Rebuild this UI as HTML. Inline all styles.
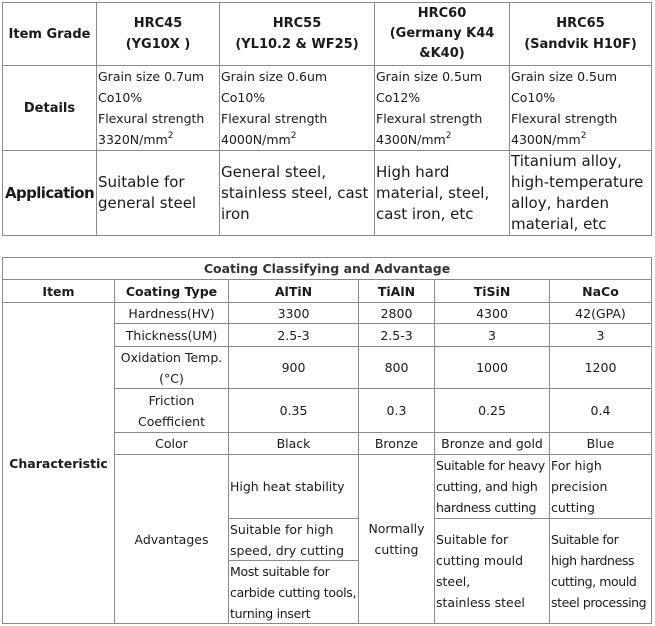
<!DOCTYPE html>
<html><head><meta charset="utf-8"><style>
body{margin:0;width:655px;height:626px;background:#fff;position:relative;overflow:hidden;font-family:"DejaVu Sans","Liberation Sans",sans-serif;color:#1a1a1a}
.c{position:absolute;box-sizing:border-box;border:1px solid #8a8a8a;display:flex;align-items:center;justify-content:center;text-align:center;font-size:12.5px;line-height:21px;white-space:nowrap}
.c>div{width:100%}
.l{text-align:left}
.l>div{padding-left:1px}
.b{font-weight:bold}
.big{font-size:15px;line-height:21px}
sup{font-size:9px;line-height:0;vertical-align:6px}
</style></head><body>
<!-- table 1 -->
<div class="c b" style="left:2px;top:2px;width:95px;height:64px;font-size:13px"><div>Item Grade</div></div>
<div class="c b" style="left:96px;top:2px;width:124px;height:64px;font-size:13px"><div>HRC45<br>(YG10X )</div></div>
<div class="c b" style="left:219px;top:2px;width:156px;height:64px;font-size:13px"><div>HRC55<br>(YL10.2 &amp; WF25)</div></div>
<div class="c b" style="left:374px;top:2px;width:136px;height:64px;font-size:13px;line-height:20px"><div>HRC60<br>(Germany K44<br>&amp;K40)</div></div>
<div class="c b" style="left:509px;top:2px;width:143px;height:64px;font-size:13px"><div>HRC65<br>(Sandvik H10F)</div></div>

<div class="c b" style="left:2px;top:65px;width:95px;height:86px;font-size:13px"><div>Details</div></div>
<div class="c l" style="left:96px;top:65px;width:124px;height:86px"><div>Grain size 0.7um<br>Co10%<br>Flexural strength<br>3320N/mm<sup>2</sup></div></div>
<div class="c l" style="left:219px;top:65px;width:156px;height:86px"><div>Grain size 0.6um<br>Co10%<br>Flexural strength<br>4000N/mm<sup>2</sup></div></div>
<div class="c l" style="left:374px;top:65px;width:136px;height:86px"><div>Grain size 0.5um<br>Co12%<br>Flexural strength<br>4300N/mm<sup>2</sup></div></div>
<div class="c l" style="left:509px;top:65px;width:143px;height:86px"><div>Grain size 0.5um<br>Co10%<br>Flexural strength<br>4300N/mm<sup>2</sup></div></div>

<div class="c b" style="left:2px;top:150px;width:95px;height:86px;font-size:15px;letter-spacing:-0.6px"><div>Application</div></div>
<div class="c l big" style="left:96px;top:150px;width:124px;height:86px"><div>Suitable for<br>general steel</div></div>
<div class="c l big" style="left:219px;top:150px;width:156px;height:86px"><div>General steel,<br>stainless steel, cast<br>iron</div></div>
<div class="c l big" style="left:374px;top:150px;width:136px;height:86px"><div>High hard<br>material, steel,<br>cast iron, etc</div></div>
<div class="c l big" style="left:509px;top:150px;width:143px;height:86px"><div>Titanium alloy,<br>high-temperature<br>alloy, harden<br>material, etc</div></div>

<!-- table 2 -->
<div class="c b" style="left:2px;top:257px;width:650px;height:23px;color:#333"><div>Coating Classifying and Advantage</div></div>
<div class="c b" style="left:2px;top:279px;width:113px;height:24px"><div>Item</div></div>
<div class="c b" style="left:114px;top:279px;width:115px;height:24px"><div>Coating Type</div></div>
<div class="c b" style="left:228px;top:279px;width:131px;height:24px"><div>AlTiN</div></div>
<div class="c b" style="left:358px;top:279px;width:77px;height:24px"><div>TiAlN</div></div>
<div class="c b" style="left:434px;top:279px;width:116px;height:24px"><div>TiSiN</div></div>
<div class="c b" style="left:549px;top:279px;width:103px;height:24px"><div>NaCo</div></div>

<div class="c b" style="left:2px;top:302px;width:113px;height:322px"><div>Characteristic</div></div>

<div class="c" style="left:114px;top:302px;width:115px;height:22px"><div>Hardness(HV)</div></div>
<div class="c" style="left:228px;top:302px;width:131px;height:22px"><div>3300</div></div>
<div class="c" style="left:358px;top:302px;width:77px;height:22px"><div>2800</div></div>
<div class="c" style="left:434px;top:302px;width:116px;height:22px"><div>4300</div></div>
<div class="c" style="left:549px;top:302px;width:103px;height:22px"><div>42(GPA)</div></div>

<div class="c" style="left:114px;top:323px;width:115px;height:24px"><div>Thickness(UM)</div></div>
<div class="c" style="left:228px;top:323px;width:131px;height:24px"><div>2.5-3</div></div>
<div class="c" style="left:358px;top:323px;width:77px;height:24px"><div>2.5-3</div></div>
<div class="c" style="left:434px;top:323px;width:116px;height:24px"><div>3</div></div>
<div class="c" style="left:549px;top:323px;width:103px;height:24px"><div>3</div></div>

<div class="c" style="left:114px;top:346px;width:115px;height:43px"><div>Oxidation Temp.<br>(°C)</div></div>
<div class="c" style="left:228px;top:346px;width:131px;height:43px"><div>900</div></div>
<div class="c" style="left:358px;top:346px;width:77px;height:43px"><div>800</div></div>
<div class="c" style="left:434px;top:346px;width:116px;height:43px"><div>1000</div></div>
<div class="c" style="left:549px;top:346px;width:103px;height:43px"><div>1200</div></div>

<div class="c" style="left:114px;top:388px;width:115px;height:45px"><div>Friction<br>Coefficient</div></div>
<div class="c" style="left:228px;top:388px;width:131px;height:45px"><div>0.35</div></div>
<div class="c" style="left:358px;top:388px;width:77px;height:45px"><div>0.3</div></div>
<div class="c" style="left:434px;top:388px;width:116px;height:45px"><div>0.25</div></div>
<div class="c" style="left:549px;top:388px;width:103px;height:45px"><div>0.4</div></div>

<div class="c" style="left:114px;top:432px;width:115px;height:23px"><div>Color</div></div>
<div class="c" style="left:228px;top:432px;width:131px;height:23px"><div>Black</div></div>
<div class="c" style="left:358px;top:432px;width:77px;height:23px"><div>Bronze</div></div>
<div class="c" style="left:434px;top:432px;width:116px;height:23px"><div>Bronze and gold</div></div>
<div class="c" style="left:549px;top:432px;width:103px;height:23px"><div>Blue</div></div>

<div class="c" style="left:114px;top:454px;width:115px;height:170px"><div>Advantages</div></div>
<div class="c l" style="left:228px;top:454px;width:131px;height:65px"><div>High heat stability</div></div>
<div class="c l" style="left:228px;top:518px;width:131px;height:43px"><div>Suitable for high<br>speed, dry cutting</div></div>
<div class="c l" style="left:228px;top:560px;width:131px;height:64px;letter-spacing:-0.3px"><div>Most suitable for<br>carbide cutting tools,<br>turning insert</div></div>
<div class="c" style="left:358px;top:454px;width:77px;height:170px"><div>Normally<br>cutting</div></div>
<div class="c l" style="left:434px;top:454px;width:116px;height:65px;letter-spacing:-0.3px"><div>Suitable for heavy<br>cutting, and high<br>hardness cutting</div></div>
<div class="c l" style="left:434px;top:518px;width:116px;height:106px"><div>Suitable for<br>cutting mould<br>steel,<br>stainless steel</div></div>
<div class="c l" style="left:549px;top:454px;width:103px;height:65px"><div>For high<br>precision<br>cutting</div></div>
<div class="c l" style="left:549px;top:518px;width:103px;height:106px;letter-spacing:-0.4px"><div>Suitable for<br>high hardness<br>cutting, mould<br>steel processing</div></div>
</body></html>
